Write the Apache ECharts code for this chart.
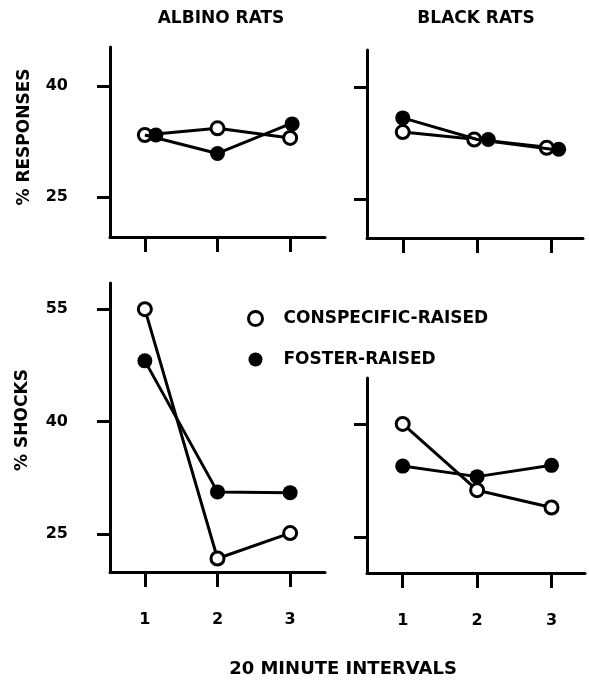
<!DOCTYPE html>
<html><head><meta charset="utf-8">
<script src="https://cdn.jsdelivr.net/npm/echarts@6/dist/echarts.min.js"></script>
<style>html,body{margin:0;padding:0;background:#fff}#c{width:589px;height:681px}</style>
</head><body><div id="c"></div>
<script>
// ---- data ----
const intervals = [1, 2, 3];
const seriesNames = ['CONSPECIFIC-RAISED', 'FOSTER-RAISED'];
const panelTitles = ['ALBINO RATS', 'BLACK RATS'];
const yTitles = ['% RESPONSES', '% SHOCKS'];
const xTitle = '20 MINUTE INTERVALS';
const responsesTicks = [25, 40];
const shocksTicks = [25, 40, 55];
const albinoResponsesConspecific = [33.4, 34.3, 33.0];
const albinoResponsesFoster = [33.4, 30.9, 34.9];
const blackResponsesConspecific = [34.0, 33.0, 31.9];
const blackResponsesFoster = [35.9, 33.0, 31.7];
const albinoShocksConspecific = [55.0, 21.7, 25.1];
const albinoShocksFoster = [48.1, 30.6, 30.5];
const blackShocksConspecific = [40.0, 31.2, 28.9];
const blackShocksFoster = [34.4, 33.0, 34.5];

// ---- layout / style ----
const FONT = 'DejaVu Sans';
const panels = [
  {grid: {left: 110, top: 47, width: 215, height: 190}, x: [0.52, 3.48], y: [19.6, 45.3], ticks: responsesTicks, yLabels: true, xLabels: false,
   data: [albinoResponsesConspecific, albinoResponsesFoster], offsets: [[0,0,0],[11,0,2]]},
  {grid: {left: 367, top: 50, width: 216, height: 188}, x: [0.52, 3.42], y: [19.8, 45.0], ticks: responsesTicks, yLabels: false, xLabels: false,
   data: [blackResponsesConspecific, blackResponsesFoster], offsets: [[0,-3,-5],[0,11,7]]},
  {grid: {left: 110, top: 283, width: 215, height: 289}, x: [0.52, 3.48], y: [19.9, 58.5], ticks: shocksTicks, yLabels: true, xLabels: true,
   data: [albinoShocksConspecific, albinoShocksFoster], offsets: [[0,0,0],[0,0,0]]},
  {grid: {left: 367, top: 378, width: 218, height: 195}, x: [0.52, 3.45], y: [20.2, 46.1], ticks: responsesTicks.concat([]), yLabels: false, xLabels: true,
   data: [blackShocksConspecific, blackShocksFoster], offsets: [[0,0,0],[0,0,0]]}
];
const axisLine = {show: true, onZero: false, lineStyle: {color: '#000', width: 3}};
const labelFont = {fontFamily: FONT, fontWeight: 'bold', fontSize: 16, color: '#000'};
const seriesStyles = [
  {symbolSize: 13, itemStyle: {color: '#fff', borderColor: '#000', borderWidth: 3}},
  {symbolSize: 15, itemStyle: {color: '#000', borderColor: '#000', borderWidth: 0}}
];

const grid = [], xAxis = [], yAxis = [], series = [];
panels.forEach((p, i) => {
  grid.push(Object.assign({}, p.grid));
  xAxis.push({
    type: 'value', gridIndex: i, min: p.x[0], max: p.x[1],
    axisLine: axisLine, splitLine: {show: false},
    axisTick: {show: true, inside: false, length: 15, customValues: intervals, lineStyle: {color: '#000', width: 3}},
    axisLabel: Object.assign({show: p.xLabels, margin: 40, customValues: intervals, formatter: v => String(v)}, labelFont)
  });
  yAxis.push({
    type: 'value', gridIndex: i, min: p.y[0], max: p.y[1],
    axisLine: axisLine, splitLine: {show: false},
    axisTick: {show: true, inside: false, length: 13, customValues: p.ticks, lineStyle: {color: '#000', width: 3}},
    axisLabel: Object.assign({show: p.yLabels, margin: 42, customValues: p.ticks, formatter: v => String(v)}, labelFont)
  });
  p.data.forEach((vals, k) => {
    series.push({
      type: 'line', name: seriesNames[k], xAxisIndex: i, yAxisIndex: i,
      symbol: 'circle', symbolSize: seriesStyles[k].symbolSize,
      itemStyle: seriesStyles[k].itemStyle,
      lineStyle: {color: '#000', width: 3},
      z: 2 + k, animation: false,
      data: intervals.map((x, j) => ({value: [x, vals[j]], symbolOffset: [p.offsets[k][j], 0]}))
    });
  });
});

const textStyle = (t, size) => ({text: t, fill: '#000', font: 'bold ' + size + 'px "' + FONT + '"', align: 'center', verticalAlign: 'middle'});
const graphic = [
  {type: 'text', x: 221, y: 19, style: textStyle(panelTitles[0], 17)},
  {type: 'text', x: 476, y: 19, style: textStyle(panelTitles[1], 17)},
  {type: 'text', x: 25, y: 137, rotation: Math.PI / 2, style: textStyle(yTitles[0], 17)},
  {type: 'text', x: 23, y: 420, rotation: Math.PI / 2, style: textStyle(yTitles[1], 17)},
  {type: 'text', x: 343, y: 669, style: textStyle(xTitle, 18)}
];

const chart = echarts.init(document.getElementById('c'), null, {renderer: 'canvas'});
chart.setOption({
  backgroundColor: '#fff',
  animation: false,
  grid, xAxis, yAxis, series, graphic,
  legend: {
    orient: 'vertical', left: 242, top: 305, itemGap: 24, itemWidth: 14, itemHeight: 14,
    icon: 'circle', selectedMode: false,
    data: [
      {name: seriesNames[0], itemStyle: {color: '#fff', borderColor: '#000', borderWidth: 3}},
      {name: seriesNames[1], itemStyle: {color: '#000', borderWidth: 0}}
    ],
    textStyle: {fontFamily: FONT, fontWeight: 'bold', fontSize: 17, color: '#000', padding: [0, 0, 0, 16]}
  }
});
</script></body></html>
